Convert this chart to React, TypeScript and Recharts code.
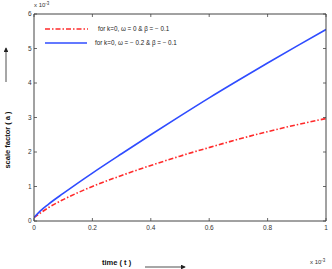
import React from "react";
import { LineChart, Line, XAxis, YAxis, Legend } from "recharts";

const times = [0, 0.02, 0.05, 0.1, 0.15, 0.2, 0.3, 0.4, 0.5, 0.6, 0.7, 0.8, 0.9, 1.0];
const blueSeries = [0.1, 0.28, 0.49, 0.8, 1.1, 1.39, 1.95, 2.5, 3.04, 3.57, 4.08, 4.58, 5.07, 5.55];
const redSeries = [0.1, 0.22, 0.39, 0.62, 0.82, 1.0, 1.32, 1.61, 1.88, 2.13, 2.37, 2.59, 2.79, 2.97];
const xTicks = [0, 0.2, 0.4, 0.6, 0.8, 1];
const yTicks = [0, 1, 2, 3, 4, 5, 6];
const xTickLabels = ["0", "0.2", "0.4", "0.6", "0.8", "1"];
const yTickLabels = ["0", "1", "2", "3", "4", "5", "6"];
const legendLabels = ["for  k=0, \u03c9 = 0 & \u03b2 = \u2212 0.1", "for   k=0, \u03c9 = \u2212 0.2 & \u03b2 = \u2212 0.1"];

const data = times.map((t, i) => ({ t, blue: blueSeries[i], red: redSeries[i] }));

const FONT = "'Liberation Sans', Arial, sans-serif";
const AXIS = "#444";
const RED = "#ff2a2a";
const BLUE = "#2f4cff";

const BottomTick = (p: any) => {
  const idx = xTicks.indexOf(p.payload.value);
  return (
    <g>
      <line x1={p.x} y1={p.y} x2={p.x} y2={p.y - 3} stroke={AXIS} strokeWidth={0.8} />
      <text x={p.x} y={p.y + 9} textAnchor="middle" fontSize={6.5} fill="#333" fontFamily={FONT}>
        {xTickLabels[idx]}
      </text>
    </g>
  );
};
const TopTick = (p: any) => (
  <line x1={p.x} y1={p.y} x2={p.x} y2={p.y + 3} stroke={AXIS} strokeWidth={0.8} />
);
const LeftTick = (p: any) => {
  const idx = yTicks.indexOf(p.payload.value);
  return (
    <g>
      <line x1={p.x} y1={p.y} x2={p.x + 3} y2={p.y} stroke={AXIS} strokeWidth={0.8} />
      <text x={p.x - 2.5} y={p.y + 2.3} textAnchor="end" fontSize={6.5} fill="#333" fontFamily={FONT}>
        {yTickLabels[idx]}
      </text>
    </g>
  );
};
const RightTick = (p: any) => (
  <line x1={p.x} y1={p.y} x2={p.x - 3} y2={p.y} stroke={AXIS} strokeWidth={0.8} />
);

const LegendContent = () => (
  <svg width={150} height={24} style={{ overflow: "visible", display: "block" }}>
    <line x1={0} y1={3} x2={43} y2={3} stroke={RED} strokeWidth={1.6} strokeDasharray="5 2 1.5 2" />
    <text x={53} y={5.3} fontSize={6.3} fill="#222" fontFamily={FONT}>{legendLabels[0]}</text>
    <line x1={0} y1={17} x2={42} y2={17} stroke={BLUE} strokeWidth={1.6} />
    <text x={50} y={19.3} fontSize={6.3} fill="#222" fontFamily={FONT}>{legendLabels[1]}</text>
  </svg>
);

export default function App() {
  return (
    <div style={{ position: "absolute", left: 0, top: 0, width: 332, height: 269, background: "#fff" }}>
      <LineChart width={332} height={269} data={data} margin={{ top: 13, right: 5, bottom: 23, left: 33 }}>
        <XAxis xAxisId="b" dataKey="t" type="number" domain={[0, 1]} ticks={xTicks} height={1} tickSize={0} tickMargin={0}
          tickLine={false} axisLine={{ stroke: AXIS, strokeWidth: 1 }} tick={<BottomTick />} interval={0} allowDataOverflow />
        <XAxis xAxisId="top" dataKey="t" type="number" orientation="top" domain={[0, 1]} ticks={xTicks} height={1}
          tickSize={0} tickMargin={0} tickLine={false} axisLine={{ stroke: AXIS, strokeWidth: 1 }} tick={<TopTick />} interval={0} allowDataOverflow />
        <YAxis yAxisId="l" type="number" domain={[0, 6]} ticks={yTicks} width={1} tickSize={0} tickMargin={0} tickLine={false}
          axisLine={{ stroke: AXIS, strokeWidth: 1 }} tick={<LeftTick />} interval={0} allowDataOverflow />
        <YAxis yAxisId="right" orientation="right" type="number" domain={[0, 6]} ticks={yTicks} width={1} tickSize={0}
          tickMargin={0} tickLine={false} axisLine={{ stroke: AXIS, strokeWidth: 1 }} tick={<RightTick />} interval={0} allowDataOverflow />
        <Legend content={<LegendContent />} wrapperStyle={{ position: "absolute", left: 45, top: 26, width: 150, height: 24 }} />
        <Line xAxisId="b" yAxisId="l" type="monotone" dataKey="red" stroke={RED} strokeWidth={1.6} strokeDasharray="5 2 1.5 2" dot={false} isAnimationActive={false} />
        <Line xAxisId="b" yAxisId="l" type="monotone" dataKey="blue" stroke={BLUE} strokeWidth={1.6} dot={false} isAnimationActive={false} />
      </LineChart>
      <svg width={332} height={269} style={{ position: "absolute", left: 0, top: 0, pointerEvents: "none" }}>
        <defs>
          <marker id="ah" markerWidth={6} markerHeight={6} refX={5} refY={3} orient="auto">
            <path d="M0,0 L6,3 L0,6 z" fill="#222" />
          </marker>
        </defs>
        <text x={34} y={7} fontSize={6} fill="#333" fontFamily={FONT}>
          x 10<tspan dy={-2.5} fontSize={4.5}>-3</tspan>
        </text>
        <text x={310} y={264} fontSize={6} fill="#333" fontFamily={FONT}>
          x 10<tspan dy={-2.5} fontSize={4.5}>-3</tspan>
        </text>
        <text x={102} y={265} fontSize={7.5} fontWeight="bold" fill="#111" fontFamily={FONT}>time ( t )</text>
        <line x1={145} y1={267} x2={185} y2={267} stroke="#222" strokeWidth={0.8} markerEnd="url(#ah)" />
        <text transform="translate(10,140) rotate(-90)" textAnchor="middle" fontSize={7.5} fontWeight="bold" fill="#111" fontFamily={FONT}>
          scale factor ( a )
        </text>
        <line x1={6} y1={82} x2={6} y2={48} stroke="#222" strokeWidth={0.8} markerEnd="url(#ah)" />
      </svg>
    </div>
  );
}
